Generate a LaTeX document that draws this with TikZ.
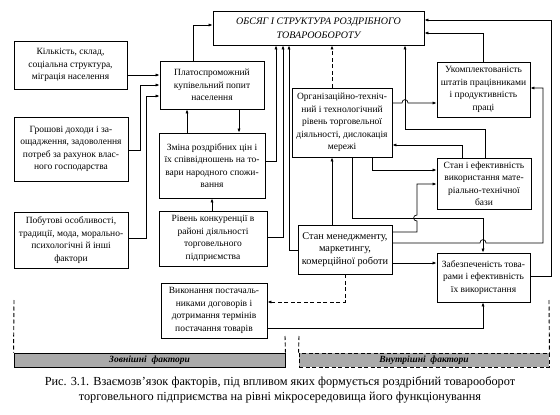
\documentclass[tikz,border=0pt]{standalone}
\usepackage{fontspec}
\setmainfont{Liberation Serif}
\usetikzlibrary{arrows.meta}
\definecolor{bargray}{RGB}{170,170,170}
\begin{document}
\begin{tikzpicture}[x=1pt,y=-1pt,
  box/.style={draw, line width=0.9pt, align=center, inner sep=1pt,
    font=\fontsize{9.5}{12.5}\selectfont},
  conn/.style={line width=0.7pt, -{Latex[length=4pt,width=3.2pt]}},
  dconn/.style={conn, line width=0.9pt, dash pattern=on 4pt off 2.5pt},
  dline/.style={line width=0.9pt, dash pattern=on 4pt off 2.5pt},
  bar/.style={line width=0.9pt, fill=bargray, inner sep=0pt,
    font=\fontsize{9.5}{10}\selectfont\bfseries\itshape}]
\useasboundingbox (0,0) rectangle (560,415);
\fill[white] (0,0) rectangle (560,415);

% boxes
\node[box, minimum width=211pt, minimum height=34pt, font=\fontsize{10}{14}\selectfont\itshape] (top) at (318.5,28)
  {ОБСЯГ І СТРУКТУРА РОЗДРІБНОГО\\ТОВАРООБОРОТУ};
\node[box, minimum width=113pt, minimum height=48pt] (kil) at (70.5,65)
  {Кількість, склад,\\соціальна структура,\\міграція населення};
\node[box, minimum width=104pt, minimum height=48pt] (plat) at (212,85)
  {Платоспроможний\\купівельний попит\\населення};
\node[box, minimum width=114pt, minimum height=64pt] (grosh) at (71,149)
  {Грошові доходи і за-\\ощадження, задоволення\\потреб за рахунок влас-\\ного господарства};
\node[box, minimum width=106pt, minimum height=65pt] (zmina) at (212,165.5)
  {Зміна роздрібних цін і\\їх співвідношень на то-\\вари народного спожи-\\вання};
\node[box, minimum width=114pt, minimum height=56pt] (pobut) at (71,240)
  {Побутові особливості,\\традиції, мода, морально-\\психологічні й інші\\фактори};
\node[box, minimum width=108pt, minimum height=55pt] (riven) at (213,238.5)
  {Рівень конкуренції в\\районі діяльності\\торговельного\\підприємства};
\node[box, minimum width=100pt, minimum height=69pt] (org) at (342,122.5)
  {Організаційно-техніч-\\ний і технологічний\\рівень торговельної\\діяльності, дислокація\\мережі};
\node[box, minimum width=93pt, minimum height=55pt] (ukom) at (483.5,89.5)
  {Укомплектованість\\штатів працівниками\\і продуктивність\\праці};
\node[box, minimum width=94pt, minimum height=51pt] (stan) at (484,183.5)
  {Стан і ефективність\\використання мате-\\ріально-технічної\\бази};
\node[box, minimum width=94pt, minimum height=49pt, font=\fontsize{10.3}{12.5}\selectfont] (men) at (345,249.5)
  {Стан менеджменту,\\маркетингу,\\комерційної роботи};
\node[box, minimum width=93pt, minimum height=49pt] (zab) at (483.5,277.5)
  {Забезпеченість това-\\рами і ефективність\\їх використання};
\node[box, minimum width=106pt, minimum height=55pt] (vyk) at (214,310.5)
  {Виконання постачаль-\\никами договорів і\\дотримання термінів\\постачання товарів};

% bars
\node[bar, draw, minimum width=271pt, minimum height=14pt] (ext) at (149.5,360) {Зовнішні\ \ фактори};
\node[bar, draw, dash pattern=on 4pt off 2.5pt, minimum width=250pt, minimum height=14pt] (int) at (424,360) {Внутрішні\ \ фактори};

% dashed boundaries
\coordinate (dl) at (14,300);
\coordinate (dr) at (549,300);
\coordinate (dm1) at (285,336);
\coordinate (dm2) at (299,336);
\draw[dline] (dl) -- (ext.north west);
\draw[dline] (dr) -- (int.north east);
\draw[dline] (dm1) -- (ext.north east);
\draw[dline] (dm2) -- (int.north west);

% connectors
\draw[conn] (plat.north -| 193,0) |- (top.west |- 0,25);
\draw[conn] (kil.east |- 0,75) -- (plat.west |- 0,75);
\draw[conn] (grosh.east |- 0,150) -| (140,85) -- (plat.west |- 0,85);
\draw[conn] (pobut.east |- 0,238) -| (146,96) -- (plat.west |- 0,96);
\draw[conn] (zmina.north -| 187,0) -- (plat.south -| 187,0);
\draw[conn] (plat.south -| 239,0) -- (zmina.north -| 239,0);
\draw[conn] (riven.north -| 212,0) -- (zmina.south -| 212,0);
\draw[conn] (zmina.east |- 0,161) -| (top.south -| 276,0);
\draw[conn] (riven.east |- 0,237) -| (top.south -| 283,0);
\draw[conn] (men.west |- 0,250) -| (top.south -| 289,0);
\draw[dconn] (org.north -| 332,0) -- (top.south -| 332,0);
\draw[conn] (men.north -| 332,0) -- (org.south -| 332,0);
\draw[conn] (org.east |- 0,103) -- (402,103) .. controls (402,98.5) and (408,98.5) .. (408,103) -- (ukom.west |- 0,103);
\draw[conn] (stan.north -| 485,0) |- (405,129) -- (top.south -| 405,0);
\draw[conn] (ukom.north -| 483,0) |- (top.east |- 0,33);
\draw[conn] (zab.east |- 0,276) -| (551,20) -- (top.east |- 0,20);
\draw[conn] (men.east |- 0,243) -- (480,243) .. controls (480,238.5) and (486,238.5) .. (486,243) -| (543,88) -- (ukom.east |- 0,88);
\draw[conn] (stan.north -| 462,0) |- (org.east |- 0,145);
\draw[conn] (org.south -| 372,0) |- (stan.west |- 0,170);
\draw[conn] (org.south -| 352,0) |- (483,218) -- (zab.north -| 483,0);
\draw[conn] (men.east |- 0,232) -| (417,221) .. controls (412.5,221) and (412.5,215) .. (417,215) |- (stan.west |- 0,184);
\draw[conn] (men.east |- 0,263) -- (zab.west |- 0,263);
\draw[dconn] (men.south -| 345,0) |- (vyk.east |- 0,302);
\draw[conn] (vyk.east |- 0,328) -| (zab.south -| 483,0);

% caption
\node[align=center, font=\fontsize{12.3}{15}\selectfont, inner sep=0pt] (cap) at (280,390)
  {Рис. 3.1. Взаємозв’язок факторів, під впливом яких формується роздрібний товарооборот\\
   торговельного підприємства на рівні мікросередовища його функціонування};
\end{tikzpicture}
\end{document}
